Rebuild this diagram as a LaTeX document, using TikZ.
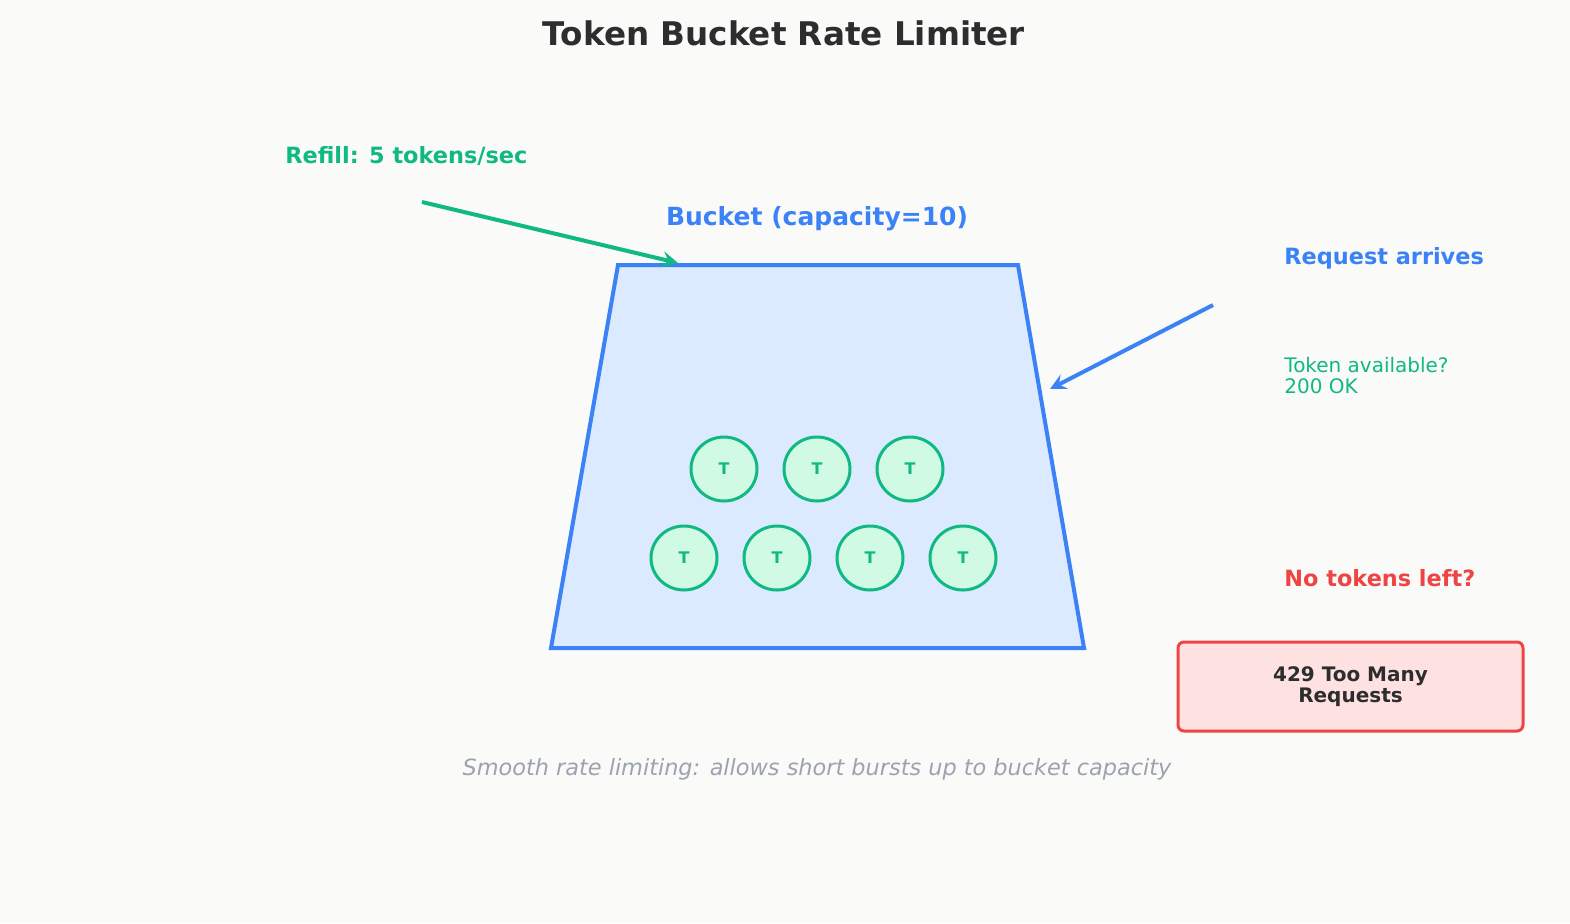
\documentclass[tikz,border=0pt]{standalone}
\usepackage{fontspec}
\setmainfont{DejaVu Sans}
\usetikzlibrary{positioning, arrows.meta, shapes.geometric}
\definecolor{bg}{HTML}{FAFAF9}
\definecolor{blueline}{HTML}{3B82F6}
\definecolor{bluefill}{HTML}{DBEAFE}
\definecolor{greenline}{HTML}{10B981}
\definecolor{greenfill}{HTML}{D1FAE5}
\definecolor{redline}{HTML}{EF4444}
\definecolor{redfill}{HTML}{FEE2E2}
\definecolor{darktext}{HTML}{2D2D2D}
\definecolor{graytext}{HTML}{9CA3AF}
\tikzset{
  token/.style={ellipse, draw=greenline, fill=greenfill, line width=1.5pt,
    minimum width=33pt, minimum height=32pt, inner sep=0pt,
    text=greenline, font=\bfseries\fontsize{8}{9}\selectfont},
  label/.style={anchor=west, inner sep=0pt, font=\bfseries\fontsize{11.2}{13}\selectfont},
  arrow/.style={line width=2pt, -{Stealth[length=8pt,width=8pt,inset=3pt]}},
}
\begin{document}
\begin{tikzpicture}[x=0.5pt,y=-0.5pt]
    % background
    \fill[bg] (0,0) rectangle (1570,923);
    \useasboundingbox (0,0) rectangle (1570,923);
    % title
    \node[text=darktext, font=\bfseries\fontsize{16.3}{19}\selectfont] (title) at (784,33) {Token Bucket Rate Limiter};

    % bucket
    \draw[blueline, fill=bluefill, line width=2pt, line join=miter]
        (618,265) -- (1018,265) -- (1084,648) -- (551,648) -- cycle;
    \coordinate (rim) at (678,263);
    \coordinate (side) at (1050,389);
    \node[text=blueline, font=\bfseries\fontsize{12.5}{15}\selectfont] (bucketlbl) at (817,219) {Bucket (capacity=10)};

    % tokens
    \foreach \x [count=\i] in {724,817,910}
        \node[token] (top\i) at (\x,469) {T};
    \foreach \x [count=\i] in {684,777,870,963}
        \node[token] (bot\i) at (\x,558) {T};

    % refill
    \node[label, text=greenline] (refill) at (285,156) {Refill: 5 tokens/sec};
    \coordinate (refillstart) at (422,202);
    \draw[arrow, greenline] (refillstart) -- (rim);

    % requests
    \node[label, text=blueline] (request) at (1284,258) {Request arrives};
    \coordinate (reqstart) at (1213,305);
    \draw[arrow, blueline] (reqstart) -- (side);
    \node[anchor=west, inner sep=0pt, text=greenline, align=left, font=\fontsize{10}{10.5}\selectfont] (ok) at (1284,376) {Token available?\\200 OK};
    \node[label, text=redline] (empty) at (1284,578) {No tokens left?};
    \draw[redline, fill=redfill, line width=1.5pt, rounded corners=3pt] (1178,642) rectangle (1523,731);
    \node[text=darktext, align=center, font=\bfseries\fontsize{10}{10.5}\selectfont] (toomany) at (1350.5,687) {429 Too Many\\Requests};

    % caption
    \node[text=graytext, font=\itshape\fontsize{11.2}{13}\selectfont] (caption) at (817,769) {Smooth rate limiting: allows short bursts up to bucket capacity};
\end{tikzpicture}
\end{document}
